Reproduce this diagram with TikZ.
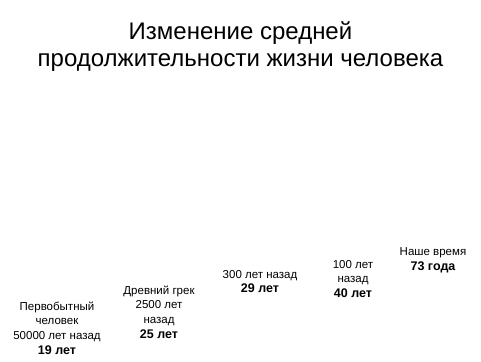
\documentclass[tikz,border=0pt]{standalone}
\usepackage{fontspec}
\setmainfont{Liberation Sans}
\newcommand{\yrs}[1]{{\fontsize{12.5}{14.7}\selectfont\bfseries #1}}
\begin{document}
\begin{tikzpicture}[x=1pt,y=1pt,
  title/.style={font=\fontsize{24}{30}\selectfont, anchor=base, text=black, inner sep=0pt},
  label/.style={font=\fontsize{11.5}{14.7}\selectfont, align=center, text=black, inner sep=0pt}]
\useasboundingbox[fill=white] (0,0) rectangle (481,-361);
\node[title] (t1) at (240.5,-39.5) {Изменение средней};
\node[title] (t2) at (240.5,-66.5) {продолжительности жизни человека};
\node[label] (g1) at (57,-328) {Первобытный\\человек\\50000 лет назад\\\yrs{19 лет}};
\node[label] (g2) at (159,-312) {Древний грек\\2500 лет\\назад\\\yrs{25 лет}};
\node[label] (g3) at (260,-281.5) {300 лет назад\\\yrs{29 лет}};
\node[label] (g4) at (353,-279) {100 лет\\назад\\\yrs{40 лет}};
\node[label] (g5) at (433,-260.5) {Наше время\\\yrs{73 года}};
\end{tikzpicture}
\end{document}
